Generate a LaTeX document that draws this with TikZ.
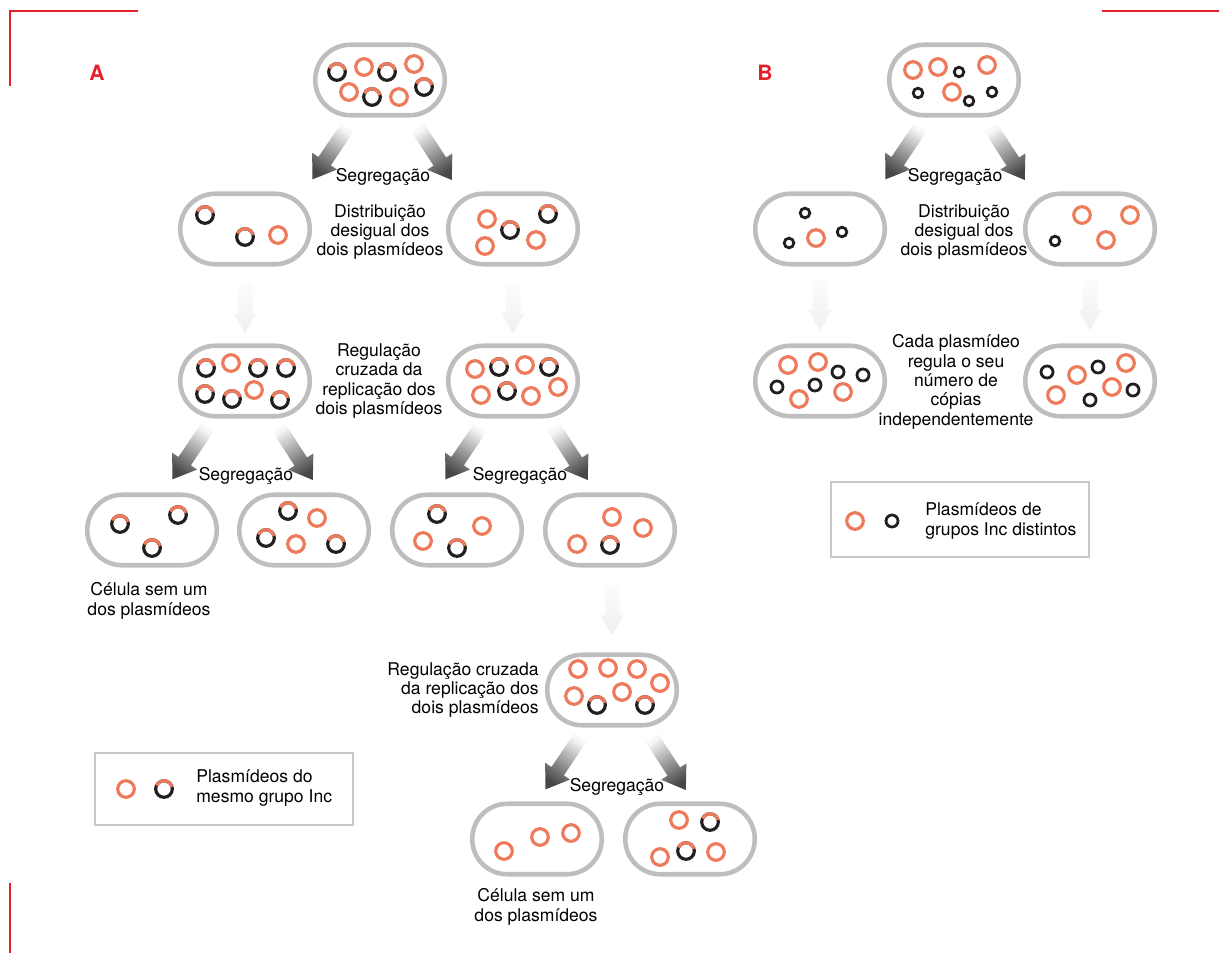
\documentclass[tikz,border=0pt]{standalone}
\usepackage{fontspec}
\setmainfont{TeX Gyre Heros}
\usepackage{tikz}
\definecolor{plorange}{RGB}{238,122,92}
\definecolor{pldark}{RGB}{35,31,32}
\definecolor{cellgray}{RGB}{190,190,190}
\definecolor{boxgray}{RGB}{200,200,200}
\definecolor{markred}{RGB}{228,32,43}

\tikzset{
  cell/.style={draw=cellgray, line width=2.6pt, rounded corners=0.7cm,
    minimum width=2.59cm, minimum height=1.41cm, inner sep=0pt},
  lbl/.style={font=\fontsize{10}{11}\selectfont, align=center, inner sep=0pt},
  orring/.style={draw=plorange, line width=1.8pt},
  bkring/.style={draw=pldark, line width=1.8pt},
  legbox/.style={draw=boxgray, line width=0.9pt},
  panel/.style={text=markred, font=\fontsize{12}{12}\selectfont\bfseries, inner sep=0pt},
}

% grey block arrow, light at the tail and dark at the head
% (#3 = direction, the shading is turned by hand since it keeps to the page)
\newcommand{\segarrow}[3]{%
  \begin{scope}[shift={(#1,#2)}, rotate=#3]
    \pgfmathsetmacro{\shang}{#3-90}
    \shade[top color=black!72, bottom color=black!3, shading angle=\shang]
      (0,-7.5) -- (40,-7.5) -- (40,-15) -- (62,0) -- (40,15) -- (40,7.5) -- (0,7.5) -- cycle;
  \end{scope}}
% very pale arrow pointing down
\newcommand{\fadearrow}[2]{%
  \begin{scope}[shift={(#1,#2)}, rotate=270]
    \shade[top color=black!1, bottom color=black!6]
      (0,-7.5) -- (30,-7.5) -- (30,-12) -- (50,0) -- (30,12) -- (30,7.5) -- (0,7.5) -- cycle;
  \end{scope}}
% plasmid rings
\newcommand{\orp}[2]{\draw[orring] (#1,#2) circle[radius=8.3];}
\newcommand{\mxp}[2]{\draw[bkring] (#1,#2) circle[radius=8.3];
  \draw[orring] (#1,#2) ++(205:8.3) arc[start angle=205, end angle=345, radius=8.3];}
\newcommand{\bkp}[3]{\draw[bkring, line width=1.6pt] (#1,#2) circle[radius=#3];}

\begin{document}
\begin{tikzpicture}[x=0.02cm, y=-0.02cm]
\useasboundingbox (0,0) rectangle (1219,953);

% corner marks
\draw[markred, line width=1.7pt] (10,86) -- (10,11) -- (138,11);
\draw[markred, line width=1.7pt] (1102,11) -- (1219,11);
\draw[markred, line width=1.7pt] (10,883) -- (10,953);
\node[panel] (pa) at (97,73) {A};
\node[panel] (pb) at (765,73) {B};

% ---------- A ----------
\node[cell] (a0)  at (380,80)  {};
\node[cell] (a1l) at (245,229) {};
\node[cell] (a1r) at (513,229) {};
\node[cell] (a2l) at (245,381) {};
\node[cell] (a2r) at (513,381) {};
\node[cell] (a3a) at (152,530) {};
\node[cell] (a3b) at (304,530) {};
\node[cell] (a3c) at (457,530) {};
\node[cell] (a3d) at (610,530) {};
\node[cell] (a4)  at (612,690) {};
\node[cell] (a5l) at (537,839) {};
\node[cell] (a5r) at (690,839) {};

\foreach \x/\y in {337/72, 387/72, 424/87, 372/97} {\mxp{\x}{\y}}
\foreach \x/\y in {364/67, 414/64, 349/92, 399/97} {\orp{\x}{\y}}
\foreach \x/\y in {205/215, 245/237} {\mxp{\x}{\y}}
\orp{278}{235}
\foreach \x/\y in {487/219, 485/246, 536/240} {\orp{\x}{\y}}
\foreach \x/\y in {510/230, 548/214} {\mxp{\x}{\y}}
\foreach \x/\y in {206/368, 258/368, 286/368, 205/394, 232/399, 280/400} {\mxp{\x}{\y}}
\foreach \x/\y in {231/363, 254/390} {\orp{\x}{\y}}
\foreach \x/\y in {475/369, 525/365, 481/395, 531/396, 558/387} {\orp{\x}{\y}}
\foreach \x/\y in {499/367, 549/367, 507/391} {\mxp{\x}{\y}}
\foreach \x/\y in {120/524, 178/515, 152/548} {\mxp{\x}{\y}}
\foreach \x/\y in {288/511, 266/538, 336/544} {\mxp{\x}{\y}}
\foreach \x/\y in {317/518, 296/544} {\orp{\x}{\y}}
\foreach \x/\y in {437/514, 457/548} {\mxp{\x}{\y}}
\foreach \x/\y in {482/526, 423/541} {\orp{\x}{\y}}
\foreach \x/\y in {612/517, 643/528, 577/544} {\orp{\x}{\y}}
\mxp{610}{545}
\foreach \x/\y in {578/669, 608/668, 637/669, 660/683, 574/696, 622/692} {\orp{\x}{\y}}
\foreach \x/\y in {597/705, 645/705} {\mxp{\x}{\y}}
\foreach \x/\y in {504/851, 540/837, 571/833, 679/820, 660/857, 716/852} {\orp{\x}{\y}}
\foreach \x/\y in {710/822, 686/851} {\mxp{\x}{\y}}

\segarrow{347}{128}{236} \segarrow{418}{128}{303}
\segarrow{207}{428}{236} \segarrow{279}{428}{303}
\segarrow{480}{428}{236} \segarrow{554}{428}{303}
\segarrow{580}{738}{236} \segarrow{652}{738}{303}
\fadearrow{245}{283} \fadearrow{513}{283}
\fadearrow{612}{585}

\node[lbl] (sa0) at (383,177) {Segregação};
\node[lbl] (sa1) at (246,476) {Segregação};
\node[lbl] (sa2) at (520,476) {Segregação};
\node[lbl] (sa3) at (617,787) {Segregação};
\node[lbl] (da) at (380,232) {Distribuição\\desigual dos\\dois plasmídeos};
\node[lbl] (ra) at (379,381) {Regulação\\cruzada da\\replicação dos\\dois plasmídeos};
\node[lbl, align=right, anchor=east] (rb) at (539,690) {Regulação cruzada\\da replicação dos\\dois plasmídeos};
\node[lbl] (ca) at (149,601) {Célula sem um\\dos plasmídeos};
\node[lbl] (cb) at (536,907) {Célula sem um\\dos plasmídeos};

% legend A
\draw[legbox] (95,753) rectangle (353,825);
\orp{126}{789} \mxp{164}{789}
\node[lbl, align=left, anchor=west] (la) at (196,788) {Plasmídeos do\\mesmo grupo Inc};

% ---------- B ----------
\node[cell] (b0)  at (954,80)   {};
\node[cell] (b1l) at (820,229)  {};
\node[cell] (b1r) at (1090,229) {};
\node[cell] (b2l) at (820,381)  {};
\node[cell] (b2r) at (1090,381) {};

\foreach \x/\y in {913/70, 938/67, 987/65, 952/92} {\orp{\x}{\y}}
\foreach \x/\y in {959/72, 918/93, 969/101, 992/92} {\bkp{\x}{\y}{4.8}}
\foreach \x/\y in {805/213, 789/243, 842/232, 1055/241} {\bkp{\x}{\y}{4.8}}
\foreach \x/\y in {816/238, 1082/215, 1130/215, 1106/240} {\orp{\x}{\y}}
\foreach \x/\y in {788/365, 818/362, 799/399, 843/392, 1077/375, 1126/363, 1056/395, 1112/387} {\orp{\x}{\y}}
\foreach \x/\y in {838/372, 863/375, 777/387, 815/385, 1047/372, 1098/367, 1090/400, 1133/390} {\bkp{\x}{\y}{6}}

\segarrow{920}{128}{236} \segarrow{991}{128}{303}
\fadearrow{820}{280} \fadearrow{1090}{280}

\node[lbl] (sb0) at (955,177) {Segregação};
\node[lbl] (db) at (964,232) {Distribuição\\desigual dos\\dois plasmídeos};
\node[lbl] (cp) at (956,382) {Cada plasmídeo\\regula o seu\\número de\\cópias\\independentemente};

% legend B
\draw[legbox] (831,482) rectangle (1089,557);
\orp{855}{521} \bkp{892}{521}{6}
\node[lbl, align=left, anchor=west] (lb) at (925,521) {Plasmídeos de\\grupos Inc distintos};
\end{tikzpicture}
\end{document}
